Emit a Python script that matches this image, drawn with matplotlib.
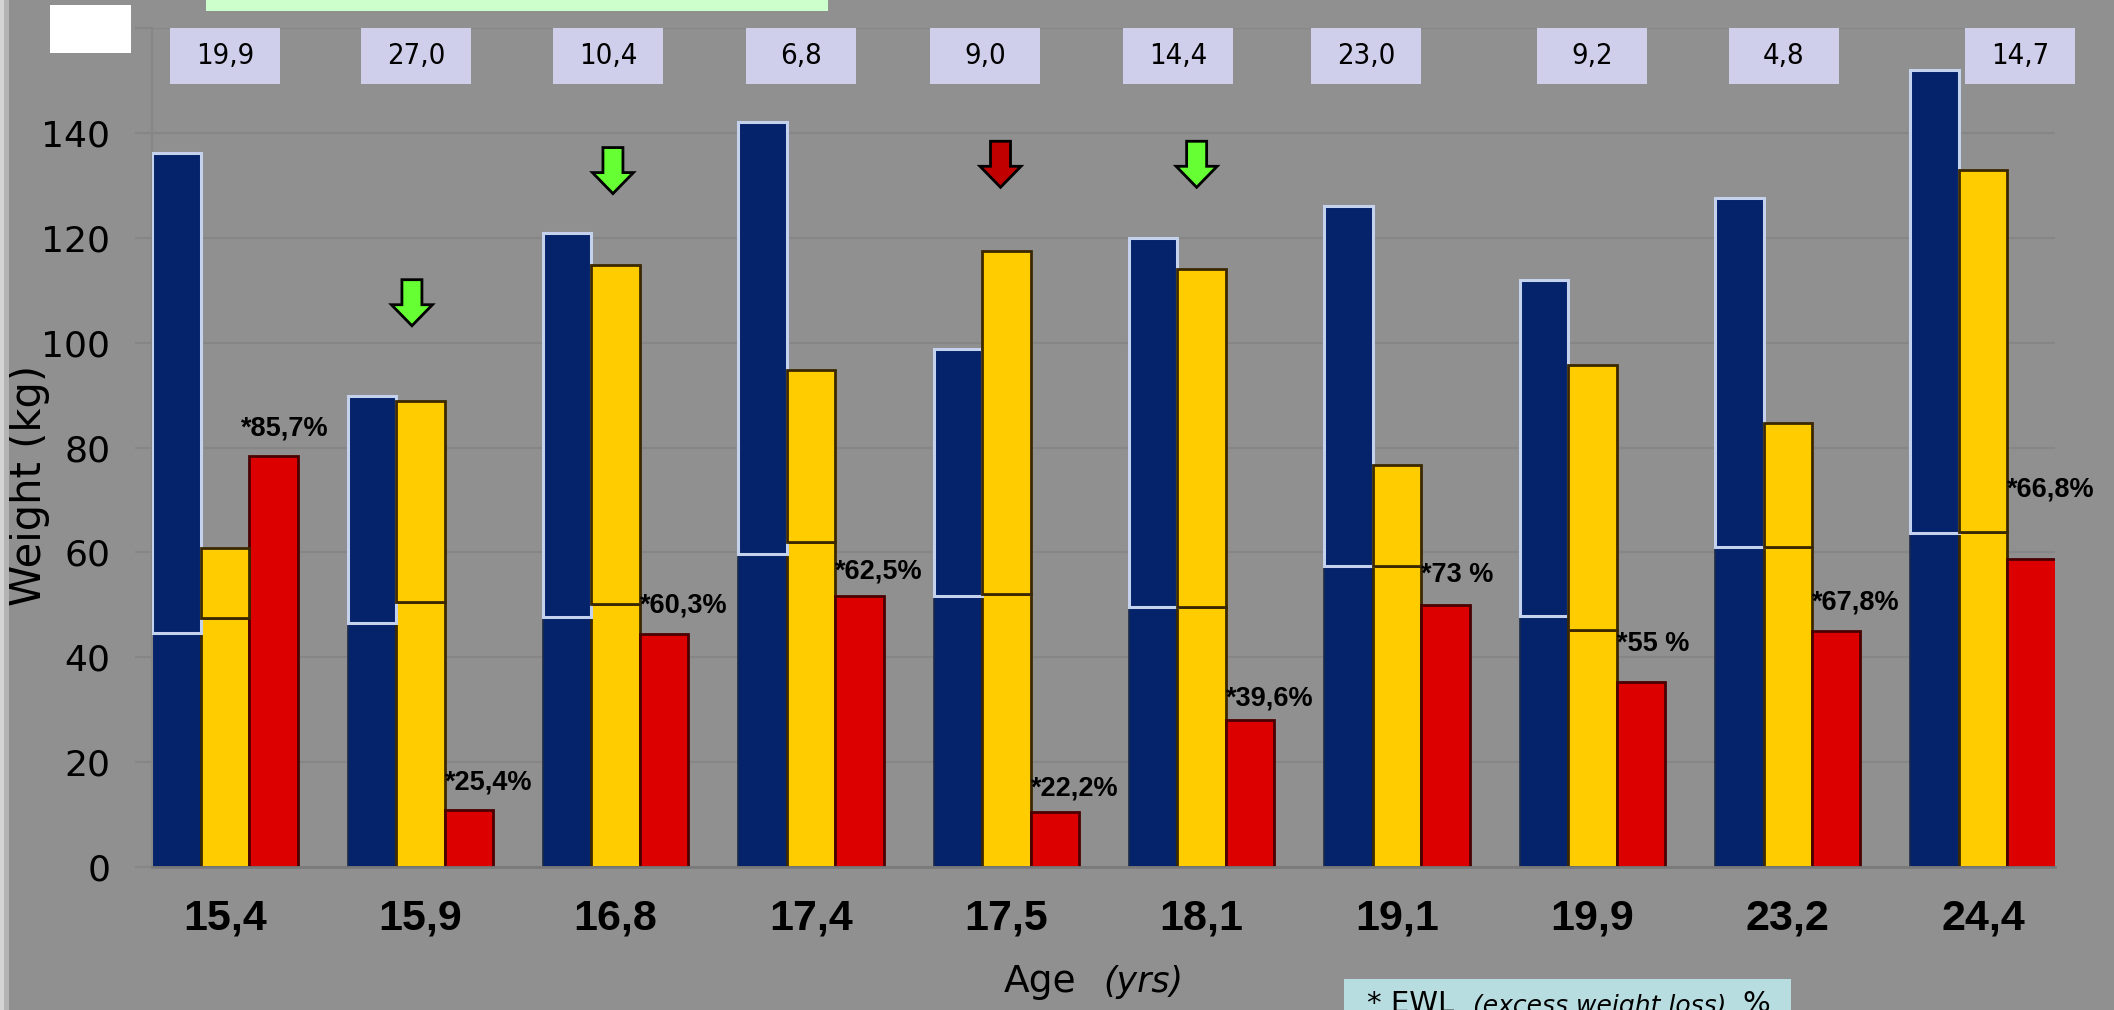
import matplotlib
matplotlib.use("Agg")
import matplotlib.pyplot as plt
from matplotlib.patches import Rectangle, Polygon
from matplotlib import font_manager

# ---------------- data ----------------
ages = ["15,4", "15,9", "16,8", "17,4", "17,5", "18,1", "19,1", "19,9", "23,2", "24,4"]
top_values = ["19,9", "27,0", "10,4", "6,8", "9,0", "14,4", "23,0", "9,2", "4,8", "14,7"]
ewl_labels = ["*85,7%", "*25,4%", "*60,3%", "*62,5%", "*22,2%", "*39,6%", "*73 %", "*55 %", "*67,8%", "*66,8%"]

blue_total = [136.1, 89.8, 121.0, 142.0, 98.8, 120.0, 126.0, 112.0, 127.6, 152.0]
blue_base = [44.6, 46.6, 47.6, 59.7, 51.7, 49.5, 57.4, 47.8, 61.1, 63.7]
yellow_total = [60.8, 88.8, 114.8, 94.7, 117.5, 114.0, 76.7, 95.8, 84.6, 133.0]
yellow_base = [47.5, 50.5, 50.2, 62.0, 52.0, 49.6, 57.4, 45.2, 61.1, 63.8]
red_values = [78.3, 10.9, 44.5, 51.7, 10.4, 28.1, 50.0, 35.3, 45.0, 58.8]

# ---------------- layout / annotations ----------------
label_dy = [5.3, 5.3, 5.4, 4.7, 4.5, 4.1, 5.6, 7.2, 5.4, 13.2]
box_dx = [0.0, -0.02, -0.04, -0.05, -0.11, -0.12, -0.16, 0.0, -0.02, 0.19]
arrows = [(0.957, 112.0, "#66ff33"), (1.986, 137.2, "#66ff33"),
          (3.97, 138.4, "#c00000"), (4.974, 138.4, "#66ff33")]

BG = "#909090"
GRID = "#868686"
BLUE = "#05236a"
YELLOW = "#ffcc00"
RED = "#dd0000"

names = {f.name for f in font_manager.fontManager.ttflist}
if "Liberation Sans Narrow" in names:
    box_font, box_size, box_stretch = "Liberation Sans Narrow", 24, "normal"
else:
    box_font, box_size, box_stretch = "DejaVu Sans", 21, "condensed"
bold_font = "Liberation Sans" if "Liberation Sans" in names else "DejaVu Sans"

W, H = 2114, 1010
fig = plt.figure(figsize=(W / 100, H / 100), dpi=100, facecolor=BG)
ax = fig.add_axes([152 / W, 143 / H, (2055 - 152) / W, (867 - 28) / H])
ax.set_facecolor(BG)

n = len(ages)
x = list(range(n))
bw = 0.248

ax.set_xlim(-0.3736, 9.368)
ax.set_ylim(0, 160)
ticks = list(range(0, 161, 20))
ax.set_yticks(ticks)
ax.set_yticklabels([str(v) if v < 160 else "" for v in ticks], fontsize=26, family="DejaVu Sans")
ax.tick_params(axis="y", length=12, width=1.5, color=GRID, pad=18)
ax.set_xticks(x)
ax.set_xticklabels(ages, fontsize=31, fontweight="bold", family=bold_font)
ax.tick_params(axis="x", length=0, pad=23)
ax.yaxis.grid(True, color=GRID, linewidth=1.5)
ax.set_axisbelow(True)
for s in ["top", "right"]:
    ax.spines[s].set_visible(False)
ax.spines["left"].set_color(GRID)
ax.spines["left"].set_linewidth(1.5)
ax.spines["bottom"].set_color("#7a7a7a")
ax.spines["bottom"].set_linewidth(2)

bx = [i - bw for i in x]
yx = x
rx = [i + bw for i in x]

# blue: lower (ideal) and upper (excess) parts
ax.bar(bx, blue_base, width=bw, color=BLUE, edgecolor="#1b2a4a", linewidth=1.2, zorder=2)
ax.bar(bx, [t - b for t, b in zip(blue_total, blue_base)], bottom=blue_base, width=bw,
       color=BLUE, edgecolor="#c4d2ee", linewidth=2.2, zorder=3)
# yellow
ax.bar(yx, yellow_base, width=bw, color=YELLOW, edgecolor="#3a2800", linewidth=2, zorder=2)
ax.bar(yx, [t - b for t, b in zip(yellow_total, yellow_base)], bottom=yellow_base, width=bw,
       color=YELLOW, edgecolor="#3a2800", linewidth=2, zorder=3)
# red
ax.bar(rx, red_values, width=bw, color=RED, edgecolor="#4a0000", linewidth=2, zorder=2)

# EWL labels
for i in range(n):
    ax.text(rx[i] - bw / 2 - (0.04 if i == 0 else 0.0), red_values[i] + label_dy[i], ewl_labels[i],
            ha="left", va="center", fontsize=19.5, fontweight="bold", family=bold_font,
            color="black", zorder=5, clip_on=False)

# top value boxes
box_w = 0.563
for i in range(n):
    cx = x[i] + box_dx[i]
    ax.add_patch(Rectangle((cx - box_w / 2, 149.3), box_w, 10.7, facecolor="#cfcfec",
                           edgecolor="none", zorder=6, clip_on=False))
    ax.text(cx, 154.6, top_values[i], ha="center", va="center", fontsize=box_size,
            family=box_font, fontstretch=box_stretch, color="black", zorder=7, clip_on=False)

# arrows
px_x = 195.3
px_y = 5.239
shape = [(-10, 0), (10, 0), (10, -25), (20.5, -25), (0, -46), (-20.5, -25), (-10, -25)]
for ax_x, ax_y, col in arrows:
    verts = [(ax_x + dx / px_x, ax_y + dy / px_y) for dx, dy in shape]
    ax.add_patch(Polygon(verts, closed=True, facecolor=col, edgecolor="black",
                         linewidth=2, zorder=6, clip_on=False))

# axis labels
fig.text(29 / W, 1 - 485 / H, "Weight (kg)", rotation=90, ha="center", va="center",
         fontsize=30, family="DejaVu Sans", color="black")
fig.text(1004 / W, 1 - 982 / H, "Age", ha="left", va="center", fontsize=27,
         family="DejaVu Sans", color="black")
fig.text(1103 / W, 1 - 982 / H, "(yrs)", ha="left", va="center", fontsize=25,
         family="DejaVu Sans", style="italic", color="black")

# decorative boxes
fig.patches.append(Rectangle((50 / W, 1 - 53 / H), 81 / W, 48 / H, transform=fig.transFigure,
                             facecolor="white", edgecolor="none", zorder=10))
fig.patches.append(Rectangle((206 / W, 1 - 11 / H), 622 / W, 11 / H, transform=fig.transFigure,
                             facecolor="#ccffcc", edgecolor="none", zorder=10))
fig.patches.append(Rectangle((1344 / W, 0), 447 / W, 31 / H, transform=fig.transFigure,
                             facecolor="#b8dde0", edgecolor="none", zorder=10))
fig.patches.append(Rectangle((0, 0), 4 / W, 1, transform=fig.transFigure,
                             facecolor="#d4d4d4", edgecolor="none", zorder=10))
fig.patches.append(Rectangle((4 / W, 0), 5 / W, 1, transform=fig.transFigure,
                             facecolor="#b4b4b4", edgecolor="none", zorder=10))

fig.text(1367 / W, 1 - 990 / H, "* EWL", ha="left", va="top", fontsize=21,
         family="DejaVu Sans", color="black", zorder=11)
fig.text(1473 / W, 1 - 994 / H, "(excess weight loss)", ha="left", va="top", fontsize=18,
         family="DejaVu Sans", style="italic", color="black", zorder=11)
fig.text(1742 / W, 1 - 990 / H, "%", ha="left", va="top", fontsize=21,
         family="DejaVu Sans", color="black", zorder=11)

fig.savefig("out.png", dpi=100, facecolor=BG)
